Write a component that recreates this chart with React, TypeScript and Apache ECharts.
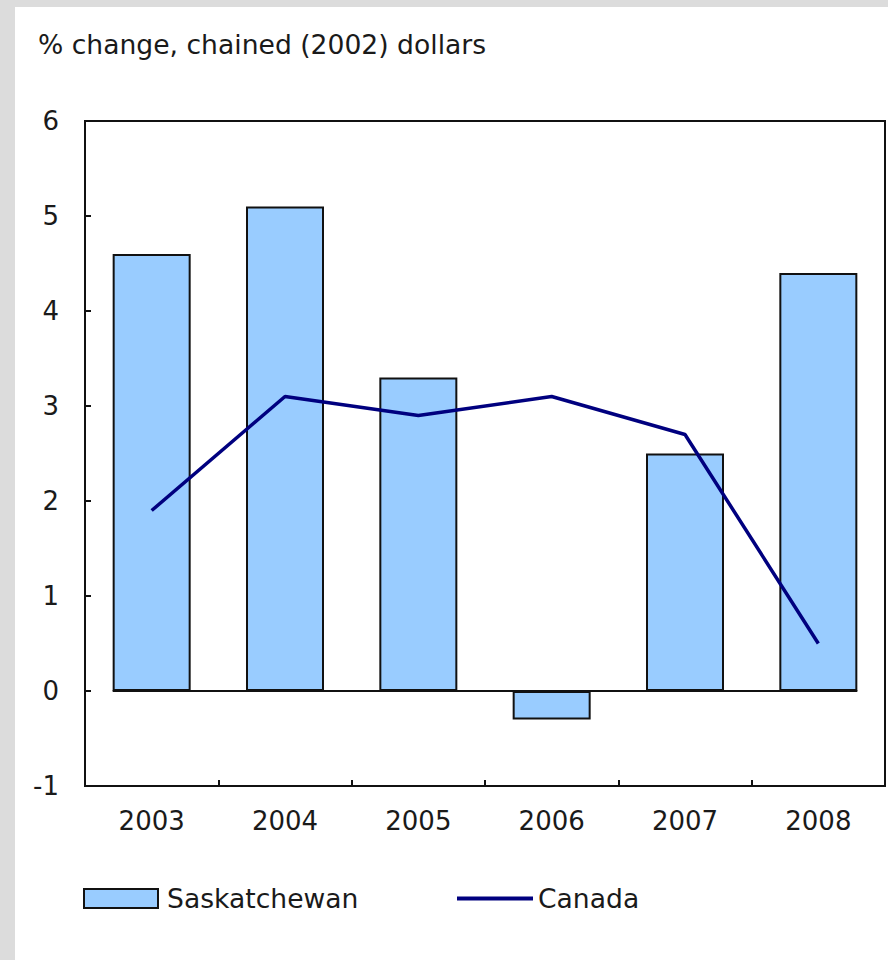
import React, { useEffect, useRef } from "react";
import * as echarts from "echarts";

const titleText = "% change, chained (2002) dollars";
const categories = ["2003", "2004", "2005", "2006", "2007", "2008"];
const saskatchewan = [4.6, 5.1, 3.3, -0.3, 2.5, 4.4];
const canada = [1.9, 3.1, 2.9, 3.1, 2.7, 0.5];
const yMin = -1;
const yMax = 6;
const yInterval = 1;

const FONT = "DejaVu Sans";
const TXT = "#1a1a1a";

export default function App() {
  const ref = useRef<HTMLDivElement>(null);
  useEffect(() => {
    document.body.style.margin = "0";
    const chart = echarts.init(ref.current!, null, { renderer: "svg" });
    const barWidthRatio = 0.585;
    chart.setOption({
      animation: false,
      backgroundColor: "#dcdcdc",
      textStyle: { fontFamily: FONT, color: TXT },
      graphic: [
        {
          type: "rect",
          z: -10,
          silent: true,
          shape: { x: 15, y: 7, width: 873, height: 953 },
          style: { fill: "#ffffff" },
        },
        {
          type: "text",
          left: 38,
          top: 31,
          style: { text: titleText, fontFamily: FONT, fontSize: 26.6, fill: TXT },
        },
      ],
      grid: {
        left: 85,
        top: 121,
        right: 3,
        bottom: 174,
        show: true,
        borderColor: "#111",
        borderWidth: 2,
        backgroundColor: "transparent",
      },
      legend: [
        {
          left: 78,
          top: 880,
          itemWidth: 74,
          itemHeight: 19,
          icon: "rect",
          data: ["Saskatchewan"],
          textStyle: { fontFamily: FONT, fontSize: 26.6, color: TXT, padding: [0, 0, 0, 4] },
        },
        {
          left: 452,
          top: 880,
          itemWidth: 76,
          itemHeight: 4,
          icon: "rect",
          data: ["Canada"],
          itemStyle: { color: "#00007f", borderWidth: 0 },
          textStyle: { fontFamily: FONT, fontSize: 26.6, color: TXT },
        },
      ],
      xAxis: {
        type: "category",
        data: categories,
        boundaryGap: true,
        axisLine: { show: true, onZero: false, lineStyle: { color: "#111", width: 2 } },
        axisTick: { show: true, inside: true, length: 6, lineStyle: { color: "#111", width: 2 } },
        axisLabel: { fontFamily: FONT, fontSize: 26, color: TXT, margin: 22 },
        splitLine: { show: false },
      },
      yAxis: {
        type: "value",
        min: yMin,
        max: yMax,
        interval: yInterval,
        axisLine: { show: true, lineStyle: { color: "#111", width: 2 } },
        axisTick: { show: true, inside: true, length: 6, lineStyle: { color: "#111", width: 2 } },
        axisLabel: { fontFamily: FONT, fontSize: 26, color: TXT, margin: 26 },
        splitLine: { show: false },
      },
      series: [
        {
          name: "Saskatchewan",
          type: "bar",
          data: saskatchewan,
          barWidth: barWidthRatio * 100 + "%",
          itemStyle: { color: "#99ccff", borderColor: "#111", borderWidth: 2 },
          z: 2,
        },
        {
          name: "zeroLine",
          type: "custom",
          data: [[0, 0]],
          z: 3,
          silent: true,
          renderItem: (params: any, api: any) => {
            const p0 = api.coord([0, 0]);
            const p1 = api.coord([categories.length - 1, 0]);
            const bw = api.size([1, 0])[0];
            const half = (bw * barWidthRatio) / 2;
            return {
              type: "line",
              shape: { x1: p0[0] - half, y1: p0[1], x2: p1[0] + half, y2: p1[1] },
              style: { stroke: "#111", lineWidth: 2 },
            };
          },
        },
        {
          name: "Canada",
          type: "line",
          data: canada,
          symbol: "none",
          showSymbol: false,
          lineStyle: { color: "#00007f", width: 3.5 },
          itemStyle: { color: "#00007f" },
          z: 5,
        },
      ],
    });
    return () => chart.dispose();
  }, []);
  return <div ref={ref} style={{ width: 888, height: 960 }} />;
}
